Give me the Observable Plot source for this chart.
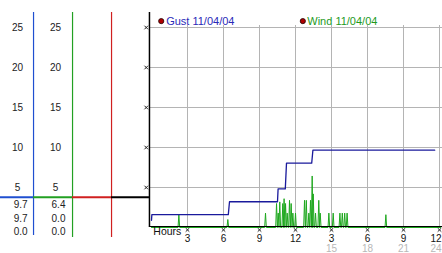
<!DOCTYPE html>
<html>
<head>
<meta charset="utf-8">
<script src="https://cdn.jsdelivr.net/npm/d3@7"></script>
<script src="https://cdn.jsdelivr.net/npm/@observablehq/plot@0.6"></script>
<style>
  html, body { margin: 0; padding: 0; background: #fff; }
  #chart svg { display: block; }
</style>
</head>
<body>
<div id="chart"></div>
<script>
// ---- data ----
const hourTicks = [3, 6, 9, 12, 15, 18, 21, 24];
const hourLabels = ["3", "6", "9", "12", "3", "6", "9", "12"];
const hourLabels2 = ["", "", "", "", "15", "18", "21", "24"];
const yTicks = [5, 10, 15, 20, 25];
const legendNames = ["Gust 11/04/04", "Wind 11/04/04"];
const gustReadouts = ["9.7", "9.7", "0.0"];
const windReadouts = ["6.4", "0.0", "0.0"];

const gustHours  = [0, 0.03, 6.4, 6.5, 10.5, 10.55, 11.15, 11.25, 13.35, 13.45, 23.6];
const gustValues = [0.9, 1.61, 1.61, 3.22, 3.22, 4.83, 4.83, 8.05, 8.05, 9.66, 9.66];

const windSpikeHours  = [2.28, 6.36, 9.5, 10.42, 10.56, 10.69, 10.94, 11.05, 11.17, 11.31, 11.5, 11.64, 11.78, 12.0,
                         12.75, 12.9, 13.11, 13.25, 13.39, 13.48, 13.67, 13.94, 14.06, 14.78, 15.14, 15.7, 15.9, 16.1, 16.3, 19.53];
const windSpikeValues = [1.6, 1.0, 1.8, 3.0, 1.8, 3.2, 3.0, 3.6, 3.0, 1.8, 3.4, 3.0, 1.8, 1.8,
                         3.4, 3.4, 1.8, 3.4, 6.44, 4.2, 1.8, 3.4, 1.8, 1.8, 1.8, 1.8, 1.8, 1.8, 1.8, 1.6];

// ---- derived tables ----
const gust = gustHours.map((h, i) => ({h, v: gustValues[i]}));
const wind = [{h: 0, v: 0}];
windSpikeHours.forEach((h, i) => {
  wind.push({h: h - 0.07, v: 0}, {h, v: windSpikeValues[i]}, {h: h + 0.07, v: 0});
});
wind.push({h: 24.1, v: 0});

// layout constants (in scale units: 12px per hour, 8px per unit)
const X0 = -151 / 12, X1 = 291 / 12;
const xBlue = -9.83, xGreen = -6.58, xRed = -3.33, xAxis = -0.17;
const yTop = 26.875, yDiv = 3.79;
const numFont = 10;
const yLab1 = -1.35, yLab2 = -2.6;

const lastTick = hourTicks.length - 1;

const chart = Plot.plot({
  width: 442,
  height: 253,
  margin: 0,
  x: {domain: [X0, X1], axis: null},
  y: {domain: [-26 / 8, 227 / 8], axis: null},
  style: {fontFamily: "'Liberation Sans', Arial, sans-serif", fontSize: "11px", background: "#fff"},
  marks: [
    // grid
    Plot.ruleY(yTicks, {x1: xAxis, x2: X1, stroke: "#b4b4b4", strokeWidth: 1}),
    Plot.ruleX(hourTicks, {y1: 0, y2: 25.25, stroke: "#b4b4b4", strokeWidth: 1}),
    // left panel lines
    Plot.ruleX([xBlue], {y1: -1.0, y2: yTop, stroke: "#1f4fd0", strokeWidth: 1.2}),
    Plot.ruleX([xGreen], {y1: -1.25, y2: yTop, stroke: "#22a022", strokeWidth: 1.2}),
    Plot.ruleX([xRed], {y1: -1.25, y2: yTop, stroke: "#d02020", strokeWidth: 1.2}),
    Plot.ruleY([yDiv], {x1: X0, x2: xBlue, stroke: "#1f4fd0", strokeWidth: 2}),
    Plot.ruleY([yDiv], {x1: xBlue, x2: xGreen, stroke: "#22a022", strokeWidth: 2}),
    Plot.ruleY([yDiv], {x1: xGreen, x2: xRed, stroke: "#d02020", strokeWidth: 2}),
    Plot.ruleY([yDiv], {x1: xRed, x2: xAxis, stroke: "#000", strokeWidth: 2}),
    // y tick labels (two columns)
    Plot.text(yTicks, {x: -11.17, y: d => d, text: d => String(d), fill: "#222", fontSize: numFont}),
    Plot.text(yTicks, {x: -8.0, y: d => d, text: d => String(d), fill: "#222", fontSize: numFont}),
    // readouts
    Plot.text(gustReadouts, {x: -10.33, y: (d, i) => [2.875, 1.125, -0.5][i], text: d => d, textAnchor: "end", fill: "#222", fontSize: numFont}),
    Plot.text(windReadouts, {x: -7.17, y: (d, i) => [2.875, 1.125, -0.5][i], text: d => d, textAnchor: "end", fill: "#222", fontSize: numFont}),
    // wind data
    Plot.line(wind, {x: "h", y: "v", stroke: "#1fa81f", strokeWidth: 1, curve: "linear"}),
    // baseline and axis
    Plot.ruleY([0.125], {x1: xAxis, x2: X1, stroke: "#000", strokeWidth: 1.2}),
    Plot.ruleX([xAxis], {y1: 0, y2: yTop, stroke: "#000", strokeWidth: 1.5}),
    // gust data
    Plot.line(gust, {x: "h", y: "v", stroke: "#1a1a9c", strokeWidth: 1.3, curve: "linear"}),
    // tick glyphs
    Plot.dot(yTicks, {x: -0.44, y: d => d, symbol: "times", r: 1.8, stroke: "#222", strokeWidth: 1}),
    Plot.dot(hourTicks, {x: d => d, y: -0.3, symbol: "times", r: 1.8, stroke: "#222", strokeWidth: 1}),
    // x labels
    Plot.text(["Hours"], {x: 0.15, y: -0.55, text: d => d, textAnchor: "start", fill: "#111", fontSize: 10.5}),
    Plot.text(hourTicks.slice(0, lastTick), {x: d => d, y: yLab1, text: (d, i) => hourLabels[i], fill: "#111", fontSize: numFont}),
    Plot.text(hourTicks.slice(0, lastTick), {x: d => d, y: yLab2, text: (d, i) => hourLabels2[i], fill: "#b8b8b8", fontSize: numFont}),
    Plot.text([hourTicks[lastTick]], {x: d => d, y: yLab1, dx: 2, text: () => hourLabels[lastTick], textAnchor: "end", fill: "#111", fontSize: numFont}),
    Plot.text([hourTicks[lastTick]], {x: d => d, y: yLab2, dx: 2, text: () => hourLabels2[lastTick], textAnchor: "end", fill: "#b8b8b8", fontSize: numFont}),
    // legend
    Plot.dot(legendNames, {x: (d, i) => [0.81, 12.61][i], y: 25.8, r: 2.6, fill: "#b00000", stroke: "#200000", strokeWidth: 0.8}),
    Plot.text(legendNames, {x: (d, i) => [1.22, 12.98][i], y: 25.8, text: d => d, textAnchor: "start",
      fill: (d, i) => i === 0 ? "#2a2ab8" : "#1e9a1e"})
  ]
});
document.getElementById("chart").appendChild(chart);
</script>
</body>
</html>
